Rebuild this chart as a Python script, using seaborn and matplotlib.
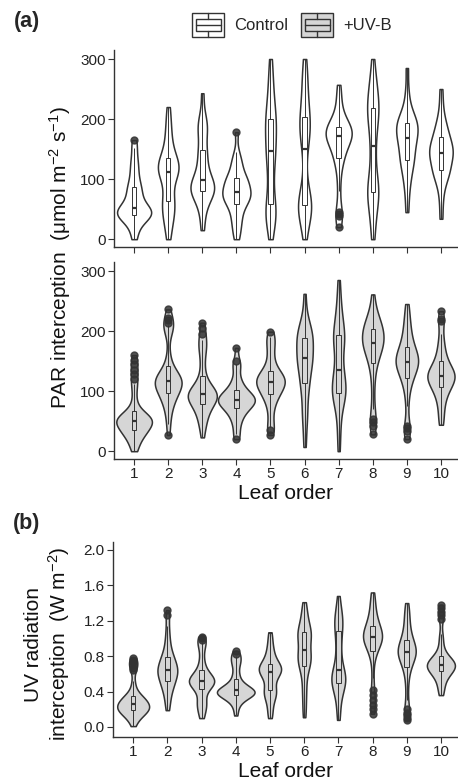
import numpy as np
import pandas as pd
import matplotlib
matplotlib.use("Agg")
import matplotlib.pyplot as plt
from matplotlib.patches import Rectangle, Patch
from matplotlib.lines import Line2D
from matplotlib.legend_handler import HandlerBase
import seaborn as sns

# ---------------- data ----------------
leaf_labels = ["1", "2", "3", "4", "5", "6", "7", "8", "9", "10"]
group_labels = ["Control", "+UV-B"]

# (a) PAR interception, Control (umol m-2 s-1)
par_ctrl_1 = [0, 12, 22, 30, 34, 37, 39, 40, 41, 43, 45, 46, 47, 48, 50, 55, 58, 62, 68, 75, 80, 84, 88, 96, 105, 115, 125, 135, 152, 165]
par_ctrl_2 = [0, 15, 28, 35, 42, 48, 55, 62, 66, 72, 82, 95, 102, 106, 110, 113, 116, 119, 122, 125, 128, 132, 136, 142, 150, 160, 172, 185, 200, 220]
par_ctrl_3 = [15, 35, 50, 60, 68, 72, 76, 79, 81, 83, 85, 87, 89, 92, 96, 100, 105, 110, 118, 128, 138, 144, 150, 165, 178, 185, 190, 196, 210, 243]
par_ctrl_4 = [0, 12, 22, 30, 38, 45, 52, 58, 61, 64, 67, 70, 73, 76, 77, 79, 82, 86, 90, 94, 97, 99, 102, 106, 112, 120, 127, 133, 145, 178]
par_ctrl_5 = [0, 22, 32, 38, 42, 45, 48, 55, 70, 85, 100, 115, 128, 138, 144, 150, 158, 168, 178, 186, 192, 197, 202, 210, 220, 232, 245, 260, 278, 300]
par_ctrl_6 = [0, 22, 35, 42, 47, 50, 53, 56, 59, 62, 65, 70, 82, 110, 140, 160, 168, 176, 182, 188, 194, 198, 205, 215, 228, 240, 255, 268, 282, 300]
par_ctrl_7 = [20, 38, 42, 45, 80, 105, 125, 133, 138, 145, 152, 158, 163, 166, 169, 171, 173, 175, 177, 179, 181, 183, 185, 187, 190, 194, 200, 210, 225, 240, 257]
par_ctrl_8 = [0, 18, 35, 50, 60, 68, 74, 78, 82, 86, 92, 100, 115, 135, 150, 160, 178, 192, 200, 206, 211, 215, 220, 228, 236, 244, 252, 262, 275, 300]
par_ctrl_9 = [45, 70, 88, 100, 110, 118, 125, 131, 135, 140, 146, 152, 158, 163, 166, 170, 174, 178, 182, 186, 189, 192, 195, 198, 202, 208, 216, 228, 250, 285]
par_ctrl_10 = [34, 60, 80, 92, 100, 106, 110, 114, 118, 123, 128, 132, 136, 139, 142, 145, 148, 151, 155, 158, 162, 166, 171, 176, 182, 188, 196, 206, 225, 250]

# (a) PAR interception, +UV-B
par_uvb_1 = [0, 6, 12, 17, 21, 25, 28, 30, 32, 33, 34, 36, 38, 40, 42, 44, 46, 48, 49, 50, 50, 51, 52, 53, 54, 55, 56, 57, 58, 60, 62, 65, 70, 78, 90, 104, 112, 120, 128, 136, 145, 152, 160]
par_uvb_2 = [27, 45, 58, 68, 75, 82, 86, 89, 92, 95, 98, 101, 104, 107, 109, 111, 112, 113, 115, 116, 117, 119, 120, 121, 123, 125, 127, 130, 134, 140, 150, 165, 198, 202, 206, 210, 214, 218, 222, 236]
par_uvb_3 = [23, 38, 45, 52, 58, 63, 68, 71, 74, 77, 80, 83, 85, 87, 89, 90, 91, 92, 93, 94, 95, 96, 98, 100, 102, 104, 107, 110, 115, 122, 132, 145, 158, 168, 175, 180, 185, 195, 205, 214]
par_uvb_4 = [20, 28, 40, 48, 55, 60, 64, 68, 71, 73, 75, 77, 79, 81, 83, 84, 85, 86, 87, 89, 91, 93, 95, 97, 99, 102, 106, 111, 117, 124, 138, 145, 150, 172]
par_uvb_5 = [27, 36, 40, 55, 68, 78, 85, 90, 94, 97, 100, 103, 106, 109, 111, 113, 114, 116, 118, 120, 122, 124, 126, 128, 130, 134, 140, 148, 158, 168, 178, 186, 190, 199]
par_uvb_6 = [7, 30, 50, 60, 72, 85, 97, 106, 112, 118, 125, 132, 138, 143, 147, 150, 153, 157, 162, 166, 171, 175, 179, 183, 186, 190, 194, 198, 202, 206, 211, 218, 235, 262]
par_uvb_7 = [0, 25, 45, 62, 75, 83, 89, 93, 96, 99, 102, 106, 110, 116, 122, 128, 134, 138, 148, 160, 170, 178, 183, 186, 189, 194, 200, 207, 214, 222, 232, 245, 262, 285]
par_uvb_8 = [28, 42, 48, 53, 70, 95, 118, 135, 145, 152, 158, 163, 168, 172, 175, 177, 179, 181, 184, 187, 190, 193, 196, 199, 202, 205, 208, 211, 214, 218, 223, 230, 242, 261]
par_uvb_9 = [20, 33, 38, 42, 75, 95, 108, 116, 121, 126, 131, 135, 139, 142, 144, 146, 148, 150, 152, 154, 157, 160, 163, 166, 170, 174, 179, 185, 192, 200, 208, 218, 230, 245]
par_uvb_10 = [44, 55, 68, 78, 86, 93, 99, 103, 106, 109, 112, 115, 118, 120, 122, 124, 125, 127, 129, 131, 133, 136, 139, 142, 146, 151, 157, 164, 172, 182, 195, 216, 220, 233]

# (b) UV radiation interception, +UV-B (W m-2)
uv_uvb_1 = [0.01, 0.06, 0.09, 0.11, 0.13, 0.14, 0.15, 0.16, 0.17, 0.18, 0.19, 0.2, 0.2, 0.21, 0.22, 0.22, 0.23, 0.24, 0.25, 0.25, 0.26, 0.27, 0.28, 0.29, 0.3, 0.31, 0.32, 0.33, 0.34, 0.35, 0.37, 0.4, 0.45, 0.52, 0.64, 0.67, 0.7, 0.73, 0.76, 0.78]
uv_uvb_2 = [0.19, 0.26, 0.32, 0.37, 0.41, 0.44, 0.47, 0.49, 0.51, 0.53, 0.55, 0.57, 0.59, 0.6, 0.62, 0.63, 0.64, 0.65, 0.67, 0.68, 0.7, 0.72, 0.74, 0.76, 0.78, 0.8, 0.83, 0.87, 0.92, 0.98, 1.05, 1.14, 1.26, 1.32]
uv_uvb_3 = [0.1, 0.14, 0.19, 0.22, 0.25, 0.27, 0.29, 0.32, 0.38, 0.42, 0.44, 0.46, 0.47, 0.48, 0.49, 0.5, 0.5, 0.51, 0.52, 0.52, 0.53, 0.54, 0.55, 0.56, 0.57, 0.58, 0.6, 0.62, 0.65, 0.69, 0.74, 0.8, 0.88, 0.93, 0.96, 0.98, 1.0, 1.02]
uv_uvb_4 = [0.13, 0.2, 0.25, 0.28, 0.3, 0.32, 0.33, 0.34, 0.35, 0.36, 0.36, 0.37, 0.38, 0.38, 0.38, 0.39, 0.4, 0.4, 0.4, 0.41, 0.42, 0.42, 0.43, 0.44, 0.45, 0.46, 0.47, 0.48, 0.5, 0.53, 0.56, 0.6, 0.64, 0.7, 0.72, 0.75, 0.78, 0.8, 0.83, 0.86]
uv_uvb_5 = [0.1, 0.16, 0.22, 0.28, 0.32, 0.35, 0.37, 0.39, 0.41, 0.43, 0.46, 0.5, 0.54, 0.57, 0.59, 0.6, 0.61, 0.63, 0.64, 0.65, 0.66, 0.67, 0.68, 0.69, 0.7, 0.72, 0.74, 0.77, 0.8, 0.84, 0.88, 0.93, 1.0, 1.07]
uv_uvb_6 = [0.11, 0.2, 0.3, 0.38, 0.45, 0.53, 0.6, 0.65, 0.68, 0.71, 0.73, 0.75, 0.77, 0.79, 0.81, 0.83, 0.85, 0.88, 0.92, 0.96, 0.99, 1.01, 1.03, 1.05, 1.06, 1.08, 1.1, 1.12, 1.15, 1.19, 1.24, 1.29, 1.34, 1.41]
uv_uvb_7 = [0.08, 0.16, 0.25, 0.33, 0.38, 0.42, 0.45, 0.47, 0.49, 0.51, 0.53, 0.54, 0.56, 0.57, 0.59, 0.61, 0.63, 0.66, 0.7, 0.76, 0.82, 0.88, 0.94, 1.0, 1.05, 1.1, 1.14, 1.17, 1.2, 1.23, 1.27, 1.31, 1.38, 1.48]
uv_uvb_8 = [0.15, 0.2, 0.25, 0.3, 0.36, 0.42, 0.55, 0.7, 0.8, 0.84, 0.87, 0.9, 0.92, 0.94, 0.96, 0.97, 0.98, 0.99, 1.0, 1.01, 1.02, 1.03, 1.04, 1.05, 1.06, 1.07, 1.08, 1.1, 1.12, 1.14, 1.16, 1.18, 1.21, 1.24, 1.27, 1.31, 1.36, 1.42, 1.47, 1.52]
uv_uvb_9 = [0.08, 0.1, 0.13, 0.16, 0.2, 0.3, 0.42, 0.52, 0.6, 0.65, 0.68, 0.71, 0.74, 0.76, 0.78, 0.8, 0.81, 0.82, 0.83, 0.84, 0.85, 0.86, 0.87, 0.88, 0.89, 0.9, 0.92, 0.94, 0.96, 0.98, 1.0, 1.03, 1.06, 1.1, 1.14, 1.19, 1.24, 1.29, 1.34, 1.4]
uv_uvb_10 = [0.36, 0.4, 0.44, 0.48, 0.52, 0.55, 0.57, 0.59, 0.61, 0.62, 0.63, 0.64, 0.65, 0.66, 0.67, 0.68, 0.69, 0.69, 0.7, 0.7, 0.71, 0.71, 0.72, 0.73, 0.74, 0.75, 0.76, 0.77, 0.78, 0.8, 0.83, 0.87, 0.93, 1.0, 1.05, 1.22, 1.26, 1.3, 1.34, 1.38]

par_ticks = [0, 100, 200, 300]
uv_ticks = [0.0, 0.4, 0.8, 1.2, 1.6, 2.0]


def long_table(groups):
    rows = []
    for lab, vals in zip(leaf_labels, groups):
        for v in vals:
            rows.append((lab, v))
    return pd.DataFrame(rows, columns=["leaf", "value"])


df_ctrl = long_table([par_ctrl_1, par_ctrl_2, par_ctrl_3, par_ctrl_4, par_ctrl_5,
                      par_ctrl_6, par_ctrl_7, par_ctrl_8, par_ctrl_9, par_ctrl_10])
df_uvb = long_table([par_uvb_1, par_uvb_2, par_uvb_3, par_uvb_4, par_uvb_5,
                     par_uvb_6, par_uvb_7, par_uvb_8, par_uvb_9, par_uvb_10])
df_uv = long_table([uv_uvb_1, uv_uvb_2, uv_uvb_3, uv_uvb_4, uv_uvb_5,
                    uv_uvb_6, uv_uvb_7, uv_uvb_8, uv_uvb_9, uv_uvb_10])

# ---------------- style ----------------
sns.set_theme(style="ticks")
plt.rcParams["font.family"] = ["Liberation Sans", "DejaVu Sans"]
plt.rcParams["mathtext.fontset"] = "custom"
plt.rcParams["mathtext.rm"] = "Liberation Sans"
plt.rcParams["mathtext.it"] = "Liberation Sans:italic"
plt.rcParams["mathtext.bf"] = "Liberation Sans:bold"

LC = "#333333"
FILL_C = "white"
FILL_U = "#d6d6d6"
W, H = 458, 784

fig = plt.figure(figsize=(W / 100, H / 100), dpi=100)


def rect(left, top, right, bottom):
    return [left / W, 1 - bottom / H, (right - left) / W, (bottom - top) / H]


ax1 = fig.add_axes(rect(114, 50, 458, 247))
ax2 = fig.add_axes(rect(114, 262, 458, 459))
ax3 = fig.add_axes(rect(113, 542, 458, 737))


def draw(ax, df, fill, bw, vwidth):
    sns.violinplot(data=df, x="leaf", y="value", order=leaf_labels, color=fill,
                   saturation=1, linecolor=LC, linewidth=1.1, inner=None, cut=0,
                   density_norm="area", width=vwidth, bw_adjust=bw, ax=ax)
    sns.boxplot(data=df, x="leaf", y="value", order=leaf_labels, color=fill,
                saturation=1, linecolor=LC, linewidth=0.7, width=0.13,
                showcaps=False, fliersize=5,
                flierprops=dict(marker="o", markerfacecolor=LC, markeredgecolor=LC, alpha=0.85),
                medianprops=dict(linewidth=1.6, color=LC), ax=ax)
    ax.set_xlim(-0.59, 9.5)
    ax.set_xlabel("")
    ax.set_ylabel("")
    for s in ["top", "right"]:
        ax.spines[s].set_visible(False)
    for s in ["left", "bottom"]:
        ax.spines[s].set_color(LC)
        ax.spines[s].set_linewidth(1.0)
    ax.tick_params(axis="both", colors=LC, length=4, width=0.8, labelsize=11,
                   labelcolor="#222222", pad=2)


draw(ax1, df_ctrl, FILL_C, 0.62, 1.0)
draw(ax2, df_uvb, FILL_U, 0.62, 1.08)
draw(ax3, df_uv, FILL_U, 0.62, 1.1)

for ax in (ax1, ax2):
    ax.set_ylim(-13, 315)
    ax.set_yticks(par_ticks)
    ax.set_yticklabels([str(t) for t in par_ticks])
ax1.tick_params(labelbottom=False)
ax3.set_ylim(-0.113, 2.09)
ax3.set_yticks(uv_ticks)
ax3.set_yticklabels([f"{t:.1f}" for t in uv_ticks])

ax2.set_xlabel("Leaf order", fontsize=15, labelpad=2, color="#111111")
ax3.set_xlabel("Leaf order", fontsize=15, labelpad=2, color="#111111")

fig.text(60 / W, 1 - 258 / H, "PAR interception  (μmol m$^{-2}$ s$^{-1}$)",
         rotation=90, ha="center", va="center", fontsize=15, color="#111111")
fig.text(48 / W, 1 - 644 / H, "UV radiation\ninterception  (W m$^{-2}$)",
         rotation=90, ha="center", va="center", multialignment="center",
         fontsize=15, color="#111111", linespacing=1.15)

fig.text(27 / W, 1 - 22 / H, "(a)", fontsize=15.5, fontweight="bold", ha="center", va="center")
fig.text(27 / W, 1 - 524 / H, "(b)", fontsize=15.5, fontweight="bold", ha="center", va="center")


class BoxKey(HandlerBase):
    def create_artists(self, legend, orig_handle, xdescent, ydescent, width, height, fontsize, trans):
        fc = orig_handle.get_facecolor()
        x0, y0 = -xdescent, -ydescent
        outer = Rectangle((x0, y0), width, height, facecolor=fc, edgecolor=LC, lw=1.0, transform=trans)
        inner = Rectangle((x0 + 0.1 * width, y0 + 0.25 * height), 0.8 * width, 0.5 * height,
                          facecolor=fc, edgecolor=LC, lw=1.0, transform=trans)
        med = Line2D([x0 + 0.1 * width, x0 + 0.9 * width], [y0 + 0.5 * height] * 2,
                     color=LC, lw=1.0, transform=trans)
        w1 = Line2D([x0 + 0.5 * width] * 2, [y0, y0 + 0.25 * height], color=LC, lw=1.0, transform=trans)
        w2 = Line2D([x0 + 0.5 * width] * 2, [y0 + 0.75 * height, y0 + height], color=LC, lw=1.0, transform=trans)
        return [outer, inner, med, w1, w2]


handles = [Patch(facecolor=FILL_C), Patch(facecolor=FILL_U)]
fig.legend(handles, group_labels, loc="center", bbox_to_anchor=(292 / W, 1 - 25 / H),
           ncol=2, frameon=False, fontsize=12, handlelength=1.9, handleheight=1.9,
           handletextpad=0.6, columnspacing=0.8,
           handler_map={Patch: BoxKey()})

fig.savefig("out.png", dpi=100)
